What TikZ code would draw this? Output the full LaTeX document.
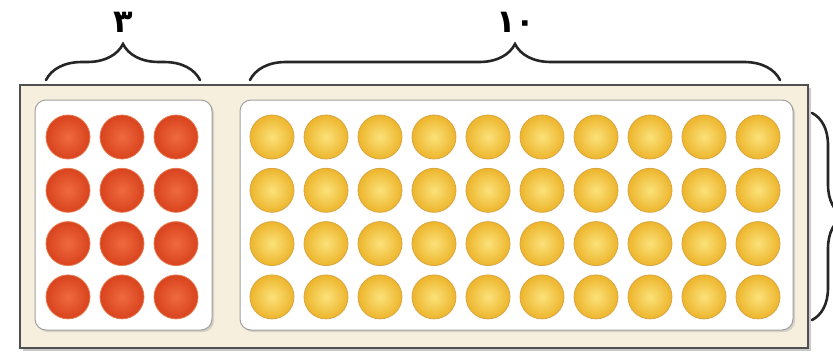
\documentclass[tikz,border=0pt]{standalone}
\usepackage{fontspec}
\newfontfamily\digitfont{DejaVu Sans}
\usetikzlibrary{decorations.pathreplacing,shadows}
\definecolor{framefill}{HTML}{F7EFDD}
\definecolor{frameline}{HTML}{505050}
\definecolor{panelline}{HTML}{A0A0A0}
\definecolor{redin}{HTML}{F06A3E}
\definecolor{redout}{HTML}{D8431E}
\definecolor{rededge}{HTML}{E8794E}
\definecolor{yelin}{HTML}{FBE27A}
\definecolor{yelout}{HTML}{EDB52C}
\definecolor{yeledge}{HTML}{D9A540}
\tikzset{
  framebox/.style={draw=frameline, line width=1.6pt, fill=framefill, minimum width=788pt, minimum height=263pt, inner sep=0pt,
    drop shadow={shadow xshift=3pt, shadow yshift=-3pt, fill=black!35, opacity=0.6}},
  panel/.style={draw=panelline, line width=1pt, fill=white, rounded corners=11pt, minimum height=230pt, inner sep=0pt,
    drop shadow={shadow xshift=2pt, shadow yshift=-2pt, fill=black!30, opacity=0.5}},
  reddot/.style={circle, minimum size=44pt, inner sep=0pt, draw=rededge, line width=0.8pt, inner color=redin, outer color=redout},
  yeldot/.style={circle, minimum size=44pt, inner sep=0pt, draw=yeledge, line width=0.8pt, inner color=yelin, outer color=yelout},
  bracestyle/.style={draw=black!85, line width=2.6pt, line cap=round, decorate, decoration={brace, amplitude=#1}},
  numlabel/.style={font=\digitfont\bfseries\fontsize{32}{32}\selectfont, inner sep=0pt, anchor=base}
}
\begin{document}
\begin{tikzpicture}[x=1pt,y=-1pt]
\useasboundingbox (0,0) rectangle (833,354);
\clip (0,0) rectangle (833,354);
\node[framebox] (frame) at (414,216.5) {};
\node[panel, minimum width=177pt] (redpanel) at (123.5,215) {};
\node[panel, minimum width=553pt] (yelpanel) at (516.5,215) {};
\foreach \j in {0,1,2,3}{
  \foreach \i in {0,1,2}{
    \node[reddot] (r-\i-\j) at ({68+54*\i},{137+53.3*\j}) {};
  }
  \foreach \i in {0,...,9}{
    \node[yeldot] (y-\i-\j) at ({272+54*\i},{137+53.3*\j}) {};
  }
}
\coordinate (b1s) at (46,80);
\coordinate (b1e) at (200,80);
\coordinate (b2s) at (250,80);
\coordinate (b2e) at (780,80);
\coordinate (b3s) at (812,113);
\coordinate (b3e) at (812,320);
\draw[bracestyle=36pt] (b1s) -- (b1e);
\draw[bracestyle=36pt] (b2s) -- (b2e);
\draw[bracestyle=32pt] (b3s) -- (b3e);
\node[numlabel] (lab3) at (123,32) {٣};
\node[numlabel] (lab10) at (516,32) {١٠};
\end{tikzpicture}
\end{document}
